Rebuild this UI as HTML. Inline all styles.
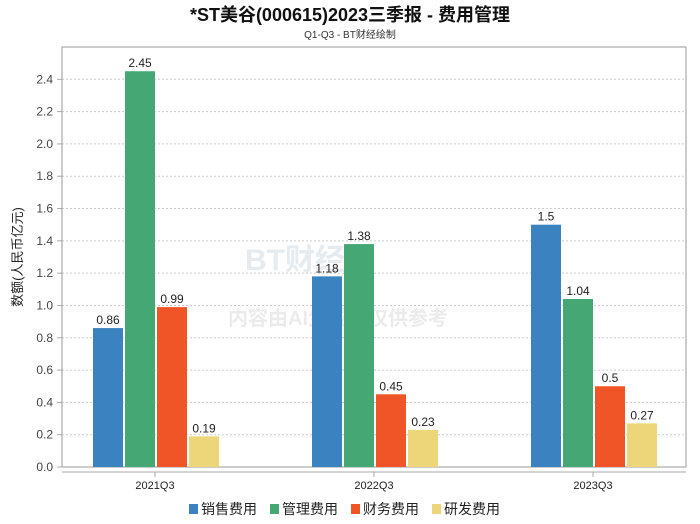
<!DOCTYPE html>
<html><head><meta charset="utf-8"><style>
body{margin:0;background:#fff}
svg{display:block;font-family:"Liberation Sans","Noto Sans CJK SC",sans-serif}
</style></head><body>
<svg id="c" width="700" height="524" xmlns="http://www.w3.org/2000/svg">
<text x="350" y="21" text-anchor="middle" font-size="18" font-weight="bold" fill="#111">*ST美谷(000615)2023三季报 - 费用管理</text>
<text x="350" y="38" text-anchor="middle" font-size="10" fill="#333">Q1-Q3 - BT财经绘制</text>
<text x="245" y="270" font-size="30" fill="#e6ebf0" font-weight="bold">BT财经</text>
<text x="228" y="325" font-size="20" fill="#ebebeb" font-weight="bold">内容由AI生成，仅供参考</text>
<g id="grid"></g>
<rect x="62" y="47" width="624" height="420" fill="none" stroke="#999"/>
<line x1="62" y1="472" x2="686" y2="472" stroke="#aaa"/>
<text transform="translate(22,257) rotate(-90)" text-anchor="middle" font-size="13" fill="#222">数额(人民币亿元)</text>
<g id="bars"></g>
<g id="legend"></g>
</svg>
<script>
const categories=["2021Q3","2022Q3","2023Q3"];
const seriesNames=["销售费用","管理费用","财务费用","研发费用"];
const sales=[0.86,1.18,1.5];
const admin=[2.45,1.38,1.04];
const finance=[0.99,0.45,0.5];
const rnd=[0.19,0.23,0.27];
const yTicks=[0,0.2,0.4,0.6,0.8,1.0,1.2,1.4,1.6,1.8,2.0,2.2,2.4];
const colors=["#3a82c0","#45a874","#f05528","#edd67a"];
const series=[sales,admin,finance,rnd];
const NS="http://www.w3.org/2000/svg";
const y=v=>467-v*(420/2.6);
const xc=i=>155+i*219;
function mk(t,a,p){const e=document.createElementNS(NS,t);for(const k in a)e.setAttribute(k,a[k]);p.appendChild(e);return e;}
const grid=document.getElementById('grid'),bars=document.getElementById('bars'),leg=document.getElementById('legend');
yTicks.forEach(v=>{
 if(v>0){const l=mk('line',{x1:62,x2:686,y1:y(v),y2:y(v),stroke:'#ccc','stroke-dasharray':'2,2'},grid);
 
 }
 const t=mk('text',{x:53,y:y(v)+4,'text-anchor':'end','font-size':12,fill:'#444'},grid);t.textContent=v.toFixed(1);
 
 
 mk('line',{x1:57,x2:62,y1:y(v),y2:y(v),stroke:'#aaa'},grid);
});
categories.forEach((c,i)=>{
 const t=mk('text',{x:xc(i),y:489,'text-anchor':'middle','font-size':11,fill:'#222'},bars);t.textContent=c;
 
 
 mk('line',{x1:xc(i),x2:xc(i),y1:472,y2:477,stroke:'#aaa'},bars);
 series.forEach((s,j)=>{
  const x0=xc(i)-62+j*32;
  const r=mk('rect',{x:x0,y:y(s[i]),width:30,height:467-y(s[i]),fill:colors[j]},bars);
  
  
  const lb=mk('text',{x:x0+15,y:y(s[i])-4,'text-anchor':'middle','font-size':12,fill:'#222'},bars);lb.textContent=String(s[i]);
  
  
 });
});
let lx=189;
seriesNames.forEach((n,j)=>{
 const g=mk('g',{},leg);
 
 
 mk('rect',{x:lx,y:504,width:9,height:10,fill:colors[j]},g);
 const t=mk('text',{x:lx+12,y:514,'font-size':14,fill:'#222'},g);t.textContent=n;
 lx+=81;
});
</script>
</body></html>
